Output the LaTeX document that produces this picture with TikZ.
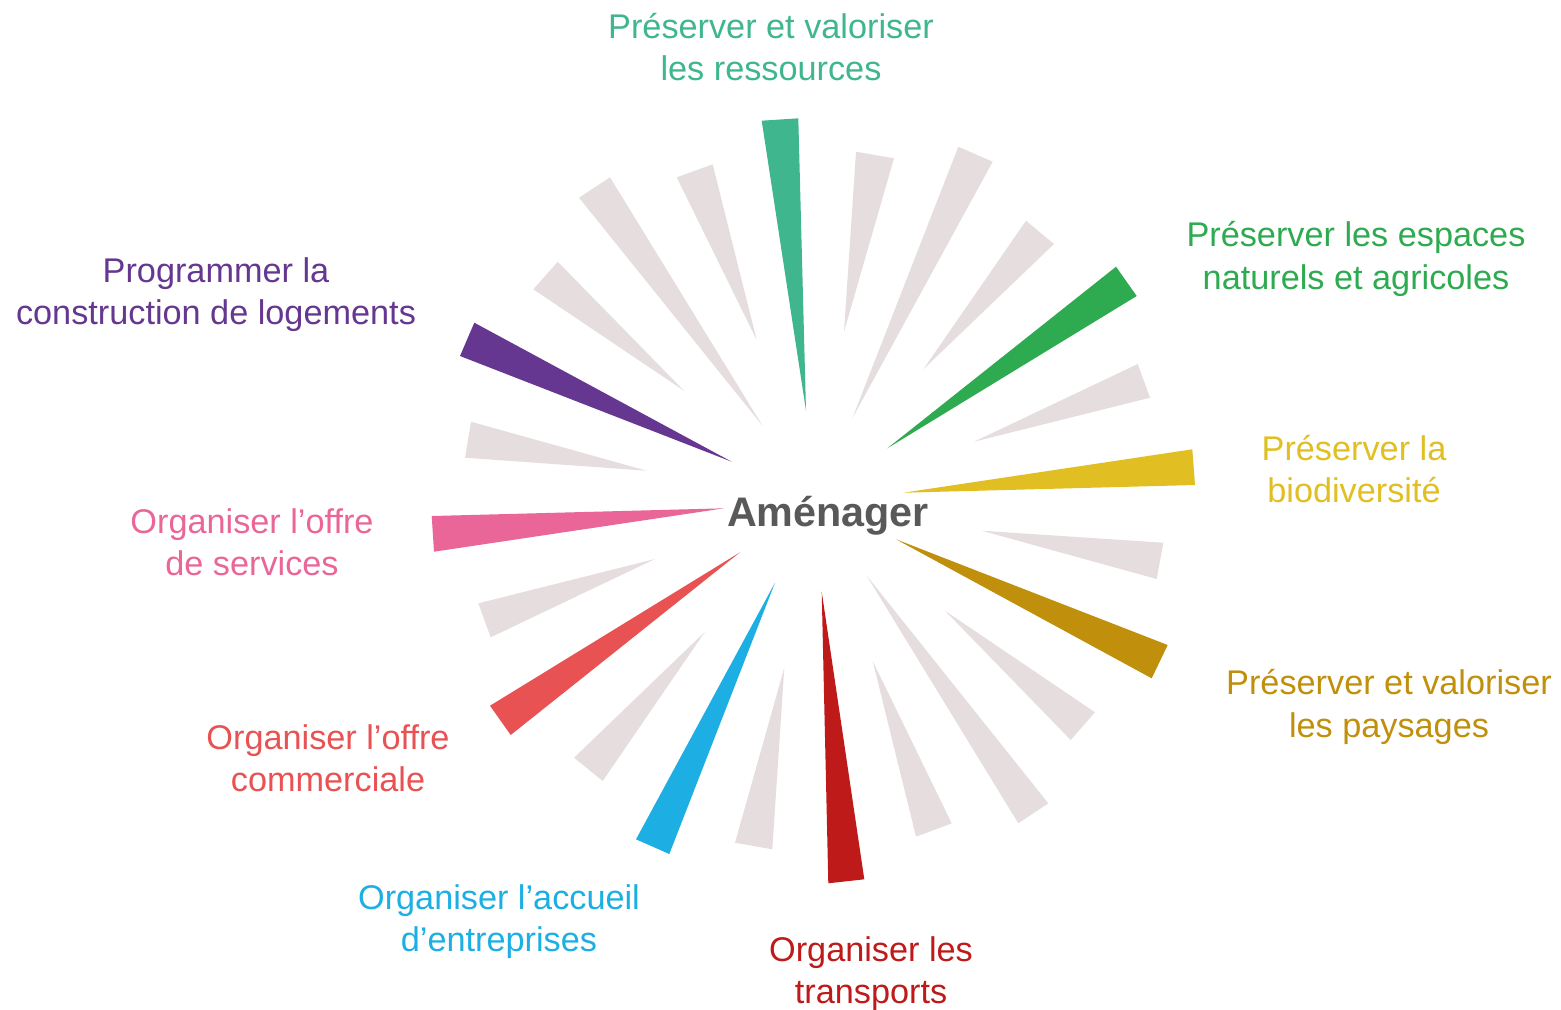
\documentclass[tikz,border=0pt]{standalone}
\usepackage{fontspec}
\setmainfont{Liberation Sans}
\usetikzlibrary{shapes}
\definecolor{tealC}{HTML}{3FB68E}
\definecolor{greenC}{HTML}{2EAA50}
\definecolor{yellowC}{HTML}{E1BF22}
\definecolor{goldC}{HTML}{C0900C}
\definecolor{darkredC}{HTML}{BE1A1A}
\definecolor{cyanC}{HTML}{1DAFE3}
\definecolor{redC}{HTML}{E85253}
\definecolor{pinkC}{HTML}{EA6698}
\definecolor{purpleC}{HTML}{653790}
\definecolor{greyC}{HTML}{E6DEDE}
\definecolor{textC}{HTML}{595959}
\begin{document}
\begin{tikzpicture}[x = 0.02cm, y = -0.02cm]
	\tikzstyle{greyStyle} = [fill = greyC]
	\tikzstyle{labelStyle} = [align = center, inner sep = 0pt, font = \fontsize{19.5}{24}\selectfont]
	\tikzstyle{centerStyle} = [inner sep = 0pt, text = textC, font = \fontsize{23.5}{28}\selectfont\bfseries]
	\useasboundingbox (0,0) rectangle (1561,1009);
	\fill[greyStyle] (756.7,340.0) -- (676.7,177.3) -- (712.7,164.3) -- cycle;
	\fill[greyStyle] (762.7,426.0) -- (579.0,197.7) -- (610.0,177.3) -- cycle;
	\fill[greyStyle] (684.0,390.7) -- (533.3,289.3) -- (557.7,261.7) -- cycle;
	\fill[greyStyle] (646.7,470.7) -- (465.0,457.7) -- (471.0,421.7) -- cycle;
	\fill[greyStyle] (844.0,331.7) -- (856.0,151.7) -- (894.0,158.3) -- cycle;
	\fill[greyStyle] (852.3,418.3) -- (958.3,146.7) -- (992.7,161.7) -- cycle;
	\fill[greyStyle] (923.3,369.3) -- (1026.0,220.7) -- (1054.0,244.0) -- cycle;
	\fill[greyStyle] (974.0,441.7) -- (1137.7,364.0) -- (1150.0,397.7) -- cycle;
	\fill[greyStyle] (981.7,530.7) -- (1163.3,542.7) -- (1156.7,579.0) -- cycle;
	\fill[greyStyle] (945.0,610.7) -- (1095.0,712.3) -- (1070.7,740.0) -- cycle;
	\fill[greyStyle] (866.7,575.7) -- (1048.3,803.3) -- (1018.3,823.3) -- cycle;
	\fill[greyStyle] (872.7,661.0) -- (951.7,823.3) -- (916.0,836.7) -- cycle;
	\fill[greyStyle] (784.3,667.7) -- (772.3,849.3) -- (735.0,842.7) -- cycle;
	\fill[greyStyle] (705.0,631.7) -- (602.7,781.0) -- (574.0,757.7) -- cycle;
	\fill[greyStyle] (655.0,559.0) -- (490.7,637.3) -- (478.3,603.3) -- cycle;
	\fill[tealC] (806.0,410.7) -- (761.7,120.7) -- (798.3,118.3) -- cycle;
	\fill[greenC] (887.3,448.3) -- (1116.0,266.7) -- (1136.7,296.0) -- cycle;
	\fill[yellowC] (903.3,492.7) -- (1192.3,449.3) -- (1195.0,485.0) -- cycle;
	\fill[goldC] (896.0,539.3) -- (1167.7,645.0) -- (1151.7,678.3) -- cycle;
	\fill[darkredC] (821.7,591.7) -- (864.3,879.3) -- (828.3,883.3) -- cycle;
	\fill[cyanC] (775.0,582.7) -- (669.3,854.0) -- (636.0,839.3) -- cycle;
	\fill[redC] (740.0,552.3) -- (510.7,735.0) -- (490.0,705.7) -- cycle;
	\fill[pinkC] (724.0,508.3) -- (434.0,551.7) -- (431.7,516.0) -- cycle;
	\fill[purpleC] (731.7,461.7) -- (460.0,356.0) -- (474.3,322.7) -- cycle;
	\node[centerStyle] (amenager) at (828,516) {Aménager};
	\node[labelStyle, text = tealC] (ressources) at (771,47) {Préserver et valoriser\\les ressources};
	\node[labelStyle, text = greenC] (espaces) at (1356,259) {Préserver les espaces\\naturels et agricoles};
	\node[labelStyle, text = yellowC] (biodiversite) at (1354,469) {Préserver la\\biodiversité};
	\node[labelStyle, text = goldC] (paysages) at (1389,707) {Préserver et valoriser\\les paysages};
	\node[labelStyle, text = darkredC] (transports) at (871,974) {Organiser les\\transports};
	\node[labelStyle, text = cyanC] (entreprises) at (499,922) {Organiser l’accueil\\d’entreprises};
	\node[labelStyle, text = redC] (commerciale) at (328,758) {Organiser l’offre\\commerciale};
	\node[labelStyle, text = pinkC] (services) at (252,542) {Organiser l’offre\\de services};
	\node[labelStyle, text = purpleC] (logements) at (216,295) {Programmer la\\construction de logements};
	\end{tikzpicture}
\end{document}
